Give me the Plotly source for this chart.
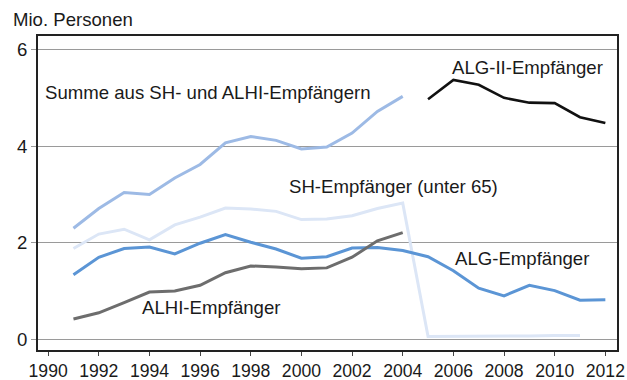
import plotly.graph_objects as go

# Jahre
years_old = list(range(1991, 2005))      # 1991-2004 (vor Hartz IV)
years_sh = list(range(1991, 2012))       # 1991-2011
years_alg = list(range(1991, 2013))      # 1991-2012
years_alg2 = list(range(2005, 2013))     # 2005-2012

# Empfänger in Mio. Personen
summe_sh_alhi = [2.30, 2.71, 3.04, 3.00, 3.34, 3.62, 4.07, 4.20, 4.12, 3.94, 3.98, 4.27, 4.72, 5.03]
alhi = [0.42, 0.55, 0.76, 0.98, 1.00, 1.12, 1.38, 1.52, 1.50, 1.46, 1.48, 1.70, 2.04, 2.21]
sh_unter65 = [1.88, 2.18, 2.28, 2.06, 2.37, 2.53, 2.72, 2.70, 2.65, 2.48, 2.49, 2.56, 2.71, 2.82,
              0.06, 0.06, 0.07, 0.07, 0.07, 0.08, 0.08]
alg = [1.34, 1.70, 1.88, 1.91, 1.77, 1.99, 2.17, 2.01, 1.87, 1.68, 1.71, 1.89, 1.90, 1.84,
       1.71, 1.42, 1.06, 0.90, 1.12, 1.01, 0.81, 0.82]
alg2 = [4.97, 5.37, 5.27, 5.00, 4.90, 4.89, 4.60, 4.48]

x_ticks = list(range(1990, 2013, 2))
y_ticks = [0, 2, 4, 6]

FONT = "Liberation Sans, Arial, Helvetica, sans-serif"
TXT = "#1a1a1a"
FS = 18.6
FS_TICK = 17.6

fig = go.Figure()

series = [
    (years_sh, sh_unter65, "#dce6f6", 3),
    (years_old, summe_sh_alhi, "#9dbae5", 3),
    (years_alg, alg, "#5b95d5", 3),
    (years_old, alhi, "#6d6d6d", 3),
    (years_alg2, alg2, "#111111", 2.6),
]
for xs, ys, col, w in series:
    fig.add_trace(go.Scatter(x=xs, y=ys, mode="lines",
                             line=dict(color=col, width=w),
                             hoverinfo="skip", showlegend=False))

labels = [
    ("Summe aus SH- und ALHI-Empfängern", 1989.79, 5.12),
    ("ALG-II-Empfänger", 2005.88, 5.62),
    ("SH-Empfänger (unter 65)", 1999.43, 3.16),
    ("ALG-Empfänger", 2006.0, 1.67),
    ("ALHI-Empfänger", 1993.62, 0.67),
]
for text, x, y in labels:
    fig.add_annotation(x=x, y=y, text=text, showarrow=False,
                       xanchor="left", yanchor="middle",
                       font=dict(family=FONT, size=FS, color=TXT))

fig.add_annotation(xref="paper", yref="paper", x=-0.046, y=1.0,
                   yshift=17, text="Mio. Personen", showarrow=False,
                   xanchor="left", yanchor="middle",
                   font=dict(family=FONT, size=FS, color=TXT))

fig.update_layout(
    width=627, height=380,
    margin=dict(l=38, r=10, t=36, b=30, autoexpand=False),
    paper_bgcolor="white", plot_bgcolor="white",
    font=dict(family=FONT, size=FS, color=TXT),
    xaxis=dict(range=[1989.6, 2012.46], tickvals=x_ticks, automargin=False,
               showgrid=False, zeroline=False,
               showline=True, linecolor="#222", linewidth=1.8, mirror=True,
               ticks="outside", ticklen=4, tickcolor="#444", tickwidth=1,
               tickfont=dict(family=FONT, size=FS_TICK, color=TXT)),
    yaxis=dict(range=[-0.22, 6.28], tickvals=y_ticks, automargin=False,
               showgrid=True, gridcolor="#9a9a9a", gridwidth=1.2, zeroline=False,
               showline=True, linecolor="#222", linewidth=1.8, mirror=True,
               ticks="outside", ticklen=5, tickcolor="#9a9a9a", tickwidth=1.2,
               tickfont=dict(family=FONT, size=FS, color=TXT)),
)

fig.write_html("out.html")
